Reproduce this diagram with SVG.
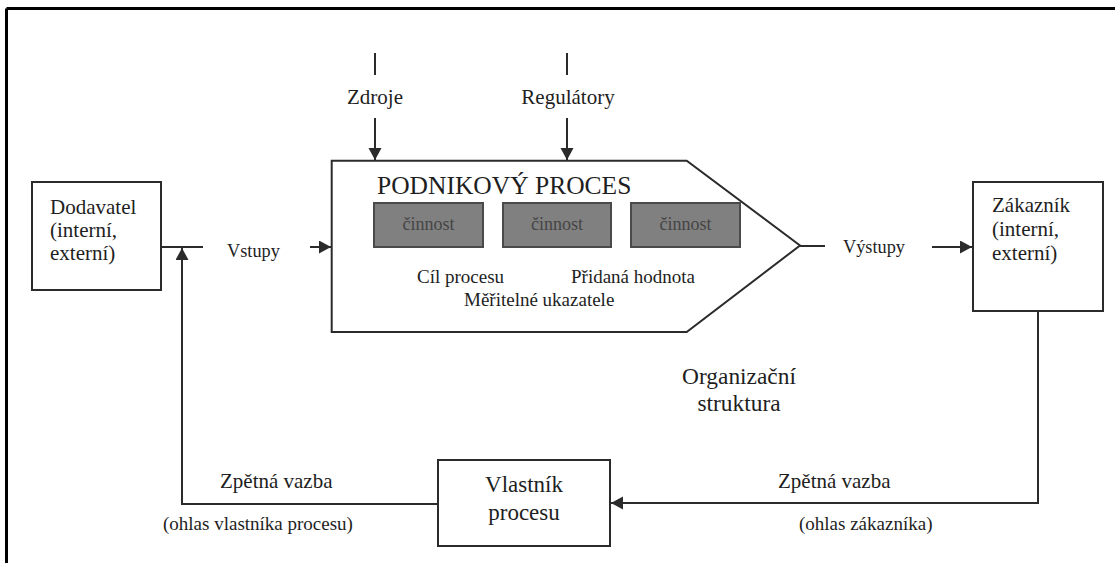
<svg xmlns="http://www.w3.org/2000/svg" width="1115" height="563" viewBox="0 0 1115 563">
<style>
.ln{fill:none;stroke:#2b2b2b;stroke-width:2}
.box{fill:#fff;stroke:#2b2b2b;stroke-width:2}
.act{fill:#808080;stroke:#4a4a4a;stroke-width:2}
text{font-family:"Liberation Serif","Times New Roman",serif;fill:#1e1e1e}
.t21{font-size:21px}
.t19{font-size:19px}
.t18{font-size:18.3px}
.t23{font-size:23px}
.act-t{font-size:18px;fill:#454545;text-anchor:middle}
.mid{text-anchor:middle}
</style>
<defs>
<marker id="ah" markerUnits="userSpaceOnUse" markerWidth="14" markerHeight="14" refX="12" refY="6.5" orient="auto">
<path d="M0,0 L12,6.5 L0,13 z" fill="#2b2b2b"/>
</marker>
</defs>
<rect x="0" y="0" width="1115" height="563" fill="#fff"/>
<g id="frame">
<line x1="6.5" y1="8.5" x2="1115" y2="8.5" stroke="#000" stroke-width="3"/>
<line x1="6.5" y1="8.5" x2="6.5" y2="563" stroke="#000" stroke-width="3"/>
</g>
<g id="connectors">
<line class="ln" x1="375" y1="53" x2="375" y2="75"/>
<line class="ln" x1="375" y1="118" x2="375" y2="160" marker-end="url(#ah)"/>
<line class="ln" x1="567" y1="53" x2="567" y2="75"/>
<line class="ln" x1="567" y1="118" x2="567" y2="160" marker-end="url(#ah)"/>
<line class="ln" x1="161" y1="247" x2="203" y2="247"/>
<line class="ln" x1="310" y1="247" x2="331" y2="247" marker-end="url(#ah)"/>
<line class="ln" x1="800" y1="246" x2="825" y2="246"/>
<line class="ln" x1="932" y1="247" x2="972" y2="247" marker-end="url(#ah)"/>
<polyline class="ln" points="1038,311 1038,503 611,503" marker-end="url(#ah)"/>
<polyline class="ln" points="438,504 182,504 182,248" marker-end="url(#ah)"/>
</g>
<g id="zdroje"><text class="t21 mid" x="375" y="104">Zdroje</text></g>
<g id="regulatory"><text class="t21 mid" x="568" y="104">Regulátory</text></g>
<g id="dodavatel">
<rect class="box" x="32" y="182" width="129" height="108"/>
<text class="t21" x="50" y="214">Dodavatel</text>
<text class="t21" x="50" y="237">(interní,</text>
<text class="t21" x="50" y="260">externí)</text>
</g>
<g id="vstupy"><text class="t18" x="227" y="257">Vstupy</text></g>
<g id="proces">
<polygon class="box" points="331.7,160.7 686.7,160.7 800,245.5 686.7,332 331.7,332"/>
<text x="377" y="194" style="font-size:25.5px">PODNIKOVÝ PROCES</text>
<rect class="act" x="374" y="203" width="109" height="44"/>
<text class="act-t" x="428.5" y="230">činnost</text>
<rect class="act" x="503" y="203" width="108" height="44"/>
<text class="act-t" x="557" y="230">činnost</text>
<rect class="act" x="631" y="203" width="109" height="44"/>
<text class="act-t" x="685.5" y="230">činnost</text>
<text class="t19" x="417" y="283">Cíl procesu</text>
<text class="t19" x="571" y="283">Přidaná hodnota</text>
<text class="t19" x="464" y="306">Měřitelné ukazatele</text>
</g>
<g id="vystupy"><text class="t18" x="843" y="253">Výstupy</text></g>
<g id="zakaznik">
<rect class="box" x="973" y="182" width="130" height="129"/>
<text class="t21" x="992" y="212">Zákazník</text>
<text class="t21" x="992" y="236">(interní,</text>
<text class="t21" x="992" y="260">externí)</text>
</g>
<g id="organizacni">
<text class="t23 mid" x="739" y="384" style="font-size:23.4px">Organizační</text>
<text class="t23 mid" x="739" y="411" style="font-size:23.4px">struktura</text>
</g>
<g id="vlastnik">
<rect class="box" x="438" y="460" width="172" height="86"/>
<text class="t23 mid" x="524" y="492">Vlastník</text>
<text class="t23 mid" x="524" y="520">procesu</text>
</g>
<g id="zpetna-levy">
<text class="t21" x="220" y="488">Zpětná vazba</text>
<text class="t19" x="163" y="530">(ohlas vlastníka procesu)</text>
</g>
<g id="zpetna-pravy">
<text class="t21" x="778" y="488">Zpětná vazba</text>
<text class="t19" x="799" y="530">(ohlas zákazníka)</text>
</g>
</svg>
